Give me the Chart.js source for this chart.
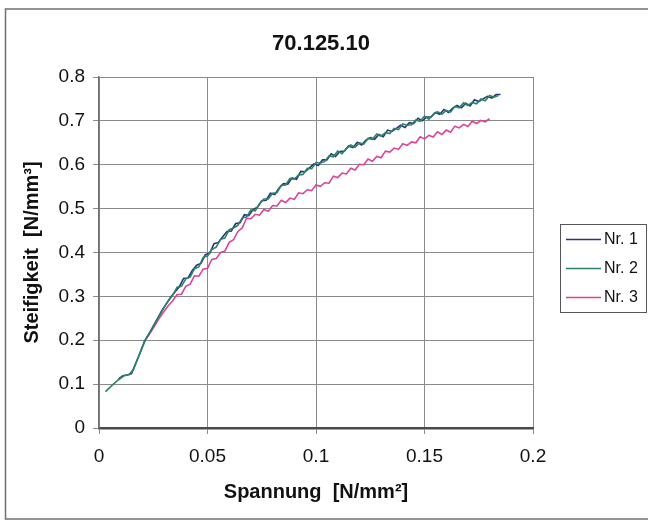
<!DOCTYPE html>
<html>
<head>
<meta charset="utf-8">
<script src="https://cdn.jsdelivr.net/npm/chart.js@4.4.0/dist/chart.umd.min.js"></script>
<style>
  html, body { margin: 0; padding: 0; background: #ffffff; }
  #wrap { width: 648px; height: 521px; }
</style>
</head>
<body>
<div id="wrap"><canvas id="chart" width="648" height="521"></canvas></div>
<script>
// Chart texts
const chartTitle = '70.125.10';
const xAxisTitle = 'Spannung  [N/mm²]';
const yAxisTitle = 'Steifigkeit  [N/mm³]';
const seriesNames = ['Nr. 1', 'Nr. 2', 'Nr. 3'];

// Tick values and labels
const xTickValues = [0, 0.05, 0.1, 0.15, 0.2];
const xTickLabels = ['0', '0.05', '0.1', '0.15', '0.2'];
const yTickValues = [0, 0.1, 0.2, 0.3, 0.4, 0.5, 0.6, 0.7, 0.8];
const yTickLabels = ['0', '0.1', '0.2', '0.3', '0.4', '0.5', '0.6', '0.7', '0.8'];

const nr1 = [
    [0.009,0.112],[0.011,0.119],[0.013,0.121],[0.015,0.124],[0.017,0.148],[0.019,0.172],[0.021,0.198],
    [0.023,0.214],[0.025,0.232],[0.027,0.250],[0.029,0.268],[0.031,0.283],[0.033,0.298],[0.035,0.310],
    [0.037,0.322],[0.039,0.341],[0.041,0.342],[0.043,0.359],[0.045,0.371],[0.047,0.375],[0.049,0.395],
    [0.051,0.398],[0.053,0.420],[0.055,0.423],[0.057,0.436],[0.059,0.448],[0.061,0.449],[0.063,0.466],
    [0.065,0.468],[0.067,0.486],[0.069,0.484],[0.071,0.498],[0.073,0.503],[0.075,0.518],[0.077,0.519],
    [0.079,0.535],[0.081,0.532],[0.083,0.547],[0.085,0.557],[0.087,0.556],[0.089,0.570],[0.091,0.567],
    [0.093,0.585],[0.095,0.584],[0.097,0.593],[0.099,0.602],[0.101,0.598],[0.103,0.611],[0.105,0.611],
    [0.107,0.625],[0.109,0.619],[0.111,0.630],[0.113,0.631],[0.115,0.643],[0.117,0.639],[0.119,0.651],
    [0.121,0.645],[0.123,0.656],[0.125,0.662],[0.127,0.658],[0.129,0.669],[0.131,0.664],[0.133,0.679],
    [0.135,0.676],[0.137,0.683],[0.139,0.690],[0.141,0.685],[0.143,0.696],[0.145,0.694],[0.147,0.706],
    [0.149,0.700],[0.151,0.709],[0.153,0.709],[0.155,0.719],[0.157,0.715],[0.159,0.726],[0.161,0.719],
    [0.163,0.729],[0.165,0.735],[0.167,0.730],[0.169,0.740],[0.171,0.734],[0.173,0.748],[0.175,0.744],
    [0.177,0.750],[0.179,0.756],[0.181,0.752],[0.183,0.760],[0.185,0.760]
];
const nr2 = [
    [0.003,0.083],[0.006,0.097],[0.009,0.110],[0.0115,0.119],[0.014,0.122],[0.016,0.135],[0.018,0.160],
    [0.020,0.185],[0.022,0.207],[0.024,0.222],[0.026,0.240],[0.028,0.258],[0.030,0.275],[0.032,0.290],
    [0.034,0.303],[0.036,0.321],[0.038,0.323],[0.040,0.340],[0.042,0.344],[0.044,0.363],[0.046,0.367],
    [0.048,0.389],[0.050,0.392],[0.052,0.407],[0.054,0.412],[0.056,0.430],[0.058,0.433],[0.060,0.452],
    [0.062,0.456],[0.064,0.462],[0.066,0.479],[0.068,0.481],[0.070,0.497],[0.072,0.495],[0.074,0.511],
    [0.076,0.522],[0.078,0.522],[0.080,0.535],[0.082,0.536],[0.084,0.553],[0.086,0.554],[0.088,0.569],
    [0.090,0.567],[0.092,0.577],[0.094,0.578],[0.096,0.592],[0.098,0.591],[0.100,0.605],[0.102,0.604],
    [0.104,0.607],[0.106,0.620],[0.108,0.618],[0.110,0.631],[0.112,0.625],[0.114,0.637],[0.116,0.645],
    [0.118,0.640],[0.120,0.650],[0.122,0.647],[0.124,0.660],[0.126,0.658],[0.128,0.670],[0.130,0.665],
    [0.132,0.673],[0.134,0.671],[0.136,0.683],[0.138,0.680],[0.140,0.693],[0.142,0.690],[0.144,0.691],
    [0.146,0.702],[0.148,0.699],[0.150,0.711],[0.152,0.704],[0.154,0.714],[0.156,0.721],[0.158,0.715],
    [0.160,0.724],[0.162,0.720],[0.164,0.733],[0.166,0.730],[0.168,0.741],[0.170,0.735],[0.172,0.742],
    [0.174,0.739],[0.176,0.750],[0.178,0.746],[0.180,0.758],[0.182,0.754],[0.184,0.758]
];
const nr3 = [
    [0.022,0.205],[0.024,0.220],[0.026,0.236],[0.028,0.252],[0.030,0.266],[0.032,0.279],[0.034,0.290],
    [0.036,0.304],[0.038,0.305],[0.040,0.323],[0.042,0.328],
    [0.044,0.347],[0.046,0.346],[0.048,0.362],[0.050,0.364],[0.052,0.384],[0.054,0.386],[0.056,0.400],
    [0.058,0.403],[0.060,0.423],[0.062,0.429],[0.064,0.448],[0.066,0.456],[0.068,0.478],[0.070,0.477],
    [0.072,0.487],[0.074,0.485],[0.076,0.498],[0.078,0.494],[0.080,0.507],[0.082,0.506],[0.084,0.519],
    [0.086,0.514],[0.088,0.524],[0.090,0.521],[0.092,0.536],[0.094,0.534],[0.096,0.543],[0.098,0.541],
    [0.100,0.554],[0.102,0.551],[0.104,0.559],[0.106,0.558],[0.108,0.574],[0.110,0.571],[0.112,0.581],
    [0.114,0.579],[0.116,0.592],[0.118,0.588],[0.120,0.601],[0.122,0.600],[0.124,0.613],[0.126,0.608],
    [0.128,0.619],[0.130,0.616],[0.132,0.631],[0.134,0.629],[0.136,0.638],[0.138,0.635],[0.140,0.648],
    [0.142,0.644],[0.144,0.652],[0.146,0.650],[0.148,0.664],[0.150,0.659],[0.152,0.667],[0.154,0.663],
    [0.156,0.675],[0.158,0.669],[0.160,0.679],[0.162,0.674],[0.164,0.688],[0.166,0.684],[0.168,0.692],
    [0.170,0.687],[0.172,0.699],[0.174,0.694],[0.176,0.701],[0.178,0.698],[0.180,0.705]
];

const seriesData = [nr1, nr2, nr3];
const seriesColors = ['#27357a', '#2b8466', '#dc4298'];

const FONT = '"Liberation Sans", Arial, sans-serif';

// Outer frame and white background behind everything
const framePlugin = {
    id: 'frame',
    beforeDraw(chart) {
        const ctx = chart.ctx;
        ctx.save();
        ctx.fillStyle = '#ffffff';
        ctx.fillRect(0, 0, chart.width, chart.height);
        ctx.strokeStyle = '#707070';
        ctx.lineWidth = 1.5;
        ctx.strokeRect(5.5, 9, 660, 510);
        ctx.restore();
    }
};

// Title and boxed legend on the right, Excel style
const titleLegendPlugin = {
    id: 'titleLegend',
    afterDraw(chart) {
        const ctx = chart.ctx;
        ctx.save();
        ctx.fillStyle = '#111111';
        ctx.font = 'bold 22px ' + FONT;
        ctx.textAlign = 'center';
        ctx.textBaseline = 'middle';
        ctx.fillText(chartTitle, 321, 44);

        // legend box
        ctx.strokeStyle = '#555555';
        ctx.lineWidth = 1;
        ctx.strokeRect(560.5, 224.5, 86, 88);
        ctx.font = '16px ' + FONT;
        ctx.textAlign = 'left';
        chart.data.datasets.forEach((ds, i) => {
            const y = 239 + i * 29;
            ctx.strokeStyle = ds.borderColor;
            ctx.lineWidth = 1.5;
            ctx.beginPath();
            ctx.moveTo(566, y + 0.5);
            ctx.lineTo(601, y + 0.5);
            ctx.stroke();
            ctx.fillStyle = '#111111';
            ctx.fillText(ds.label, 604, y + 1);
        });
        ctx.restore();
    }
};

const ctx = document.getElementById('chart').getContext('2d');

new Chart(ctx, {
    type: 'scatter',
    data: {
        datasets: seriesData.map((points, i) => ({
            label: seriesNames[i],
            data: points.map(p => ({ x: p[0], y: p[1] })),
            showLine: true,
            borderColor: seriesColors[i],
            backgroundColor: seriesColors[i],
            borderWidth: 1.6,
            pointRadius: 0,
            tension: 0,
            order: [1, 0, 2][i]
        }))
    },
    options: {
        responsive: false,
        animation: false,
        devicePixelRatio: 1,
        layout: { padding: { left: 0, top: 77, right: 115, bottom: 0 } },
        plugins: {
            legend: { display: false },
            title: { display: false },
            tooltip: { enabled: false }
        },
        scales: {
            x: {
                type: 'linear',
                min: 0,
                max: 0.2,
                afterFit: scale => { scale.height = 93; },
                afterBuildTicks: scale => { scale.ticks = xTickValues.map(v => ({ value: v })); },
                ticks: {
                    color: '#111111',
                    font: { family: FONT, size: 19 },
                    padding: 11,
                    maxRotation: 0,
                    callback: (value, index) => xTickLabels[index]
                },
                grid: { color: '#8a8a8a', lineWidth: 1, tickLength: 6 },
                border: { color: '#4a4a4a', width: 2.5 },
                title: {
                    display: true,
                    text: xAxisTitle,
                    color: '#111111',
                    font: { family: FONT, size: 20, weight: 'bold' },
                    padding: { top: 0, bottom: 17 }
                }
            },
            y: {
                type: 'linear',
                min: 0,
                max: 0.8,
                afterFit: scale => { scale.width = 99; },
                afterBuildTicks: scale => { scale.ticks = yTickValues.map(v => ({ value: v })); },
                ticks: {
                    color: '#111111',
                    font: { family: FONT, size: 19 },
                    padding: 8,
                    callback: (value, index) => yTickLabels[index]
                },
                grid: { color: '#8a8a8a', lineWidth: 1, tickLength: 6 },
                border: { color: '#707070', width: 1.5 },
                title: {
                    display: true,
                    text: yAxisTitle,
                    color: '#111111',
                    font: { family: FONT, size: 20, weight: 'bold' },
                    padding: { top: 20, bottom: 0 }
                }
            }
        }
    },
    plugins: [framePlugin, titleLegendPlugin]
});
</script>
</body>
</html>
